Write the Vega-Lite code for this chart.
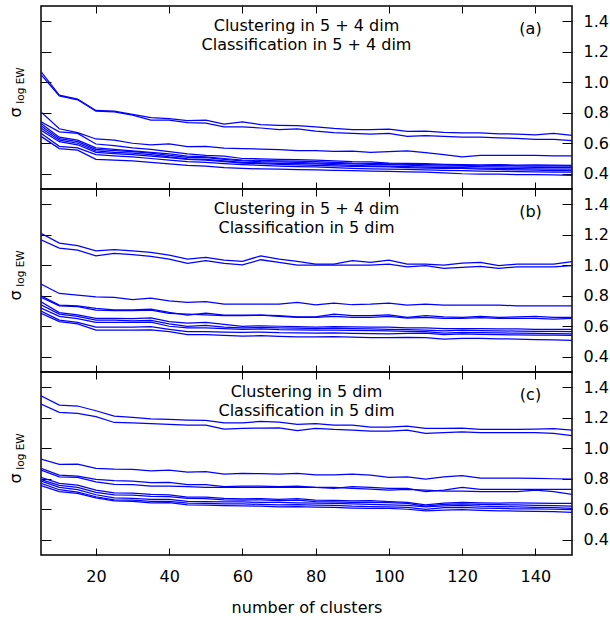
{
"$schema": "https://vega.github.io/schema/vega-lite/v6.json",
"padding": {"left": 6, "top": 4, "right": 5, "bottom": 5},
"spacing": 0,
"bounds": "flush",
"config": {
 "font": "DejaVu Sans",
 "view": {"stroke": "#000", "strokeWidth": 1.5},
 "axis": {"grid": false, "domain": false, "tickColor": "#000", "tickWidth": 1, "labelColor": "#000", "labelFont": "DejaVu Sans", "labelFontSize": 16, "titleColor": "#000", "titleFont": "DejaVu Sans", "titleFontWeight": "normal", "titleFontSize": 16},
 "title": {"font": "DejaVu Sans", "fontSize": 16, "fontWeight": "normal", "color": "#000", "anchor": "middle", "baseline": "top", "offset": 0, "lineHeight": 19}
},
"datasets": {
"a": [
{"r":1,"n":5,"s":1.07},{"r":1,"n":10,"s":0.915},{"r":1,"n":15,"s":0.89},{"r":1,"n":20,"s":0.815},{"r":1,"n":25,"s":0.81},{"r":1,"n":30,"s":0.79},{"r":1,"n":35,"s":0.768},{"r":1,"n":40,"s":0.762},{"r":1,"n":45,"s":0.748},{"r":1,"n":50,"s":0.752},{"r":1,"n":55,"s":0.725},{"r":1,"n":60,"s":0.74},{"r":1,"n":65,"s":0.722},{"r":1,"n":70,"s":0.718},{"r":1,"n":75,"s":0.716},{"r":1,"n":80,"s":0.708},{"r":1,"n":85,"s":0.697},{"r":1,"n":90,"s":0.69},{"r":1,"n":95,"s":0.69},{"r":1,"n":100,"s":0.692},{"r":1,"n":105,"s":0.678},{"r":1,"n":110,"s":0.68},{"r":1,"n":115,"s":0.672},{"r":1,"n":120,"s":0.668},{"r":1,"n":125,"s":0.668},{"r":1,"n":130,"s":0.662},{"r":1,"n":135,"s":0.66},{"r":1,"n":140,"s":0.655},{"r":1,"n":145,"s":0.665},{"r":1,"n":150,"s":0.652},
{"r":2,"n":5,"s":1.05},{"r":2,"n":10,"s":0.91},{"r":2,"n":15,"s":0.885},{"r":2,"n":20,"s":0.81},{"r":2,"n":25,"s":0.805},{"r":2,"n":30,"s":0.785},{"r":2,"n":35,"s":0.752},{"r":2,"n":40,"s":0.752},{"r":2,"n":45,"s":0.735},{"r":2,"n":50,"s":0.732},{"r":2,"n":55,"s":0.708},{"r":2,"n":60,"s":0.708},{"r":2,"n":65,"s":0.7},{"r":2,"n":70,"s":0.69},{"r":2,"n":75,"s":0.695},{"r":2,"n":80,"s":0.68},{"r":2,"n":85,"s":0.67},{"r":2,"n":90,"s":0.665},{"r":2,"n":95,"s":0.66},{"r":2,"n":100,"s":0.665},{"r":2,"n":105,"s":0.645},{"r":2,"n":110,"s":0.65},{"r":2,"n":115,"s":0.645},{"r":2,"n":120,"s":0.64},{"r":2,"n":125,"s":0.64},{"r":2,"n":130,"s":0.636},{"r":2,"n":135,"s":0.632},{"r":2,"n":140,"s":0.625},{"r":2,"n":145,"s":0.625},{"r":2,"n":150,"s":0.618},
{"r":3,"n":5,"s":0.805},{"r":3,"n":10,"s":0.695},{"r":3,"n":15,"s":0.67},{"r":3,"n":20,"s":0.628},{"r":3,"n":25,"s":0.62},{"r":3,"n":30,"s":0.6},{"r":3,"n":35,"s":0.59},{"r":3,"n":40,"s":0.596},{"r":3,"n":45,"s":0.578},{"r":3,"n":50,"s":0.58},{"r":3,"n":55,"s":0.568},{"r":3,"n":60,"s":0.565},{"r":3,"n":65,"s":0.562},{"r":3,"n":70,"s":0.558},{"r":3,"n":75,"s":0.552},{"r":3,"n":80,"s":0.552},{"r":3,"n":85,"s":0.546},{"r":3,"n":90,"s":0.548},{"r":3,"n":95,"s":0.54},{"r":3,"n":100,"s":0.545},{"r":3,"n":105,"s":0.55},{"r":3,"n":110,"s":0.538},{"r":3,"n":115,"s":0.525},{"r":3,"n":120,"s":0.51},{"r":3,"n":125,"s":0.52},{"r":3,"n":130,"s":0.52},{"r":3,"n":135,"s":0.52},{"r":3,"n":140,"s":0.52},{"r":3,"n":145,"s":0.518},{"r":3,"n":150,"s":0.518},
{"r":4,"n":5,"s":0.74},{"r":4,"n":10,"s":0.675},{"r":4,"n":15,"s":0.665},{"r":4,"n":20,"s":0.595},{"r":4,"n":25,"s":0.585},{"r":4,"n":30,"s":0.57},{"r":4,"n":35,"s":0.56},{"r":4,"n":40,"s":0.545},{"r":4,"n":45,"s":0.53},{"r":4,"n":50,"s":0.52},{"r":4,"n":55,"s":0.515},{"r":4,"n":60,"s":0.5},{"r":4,"n":65,"s":0.498},{"r":4,"n":70,"s":0.495},{"r":4,"n":75,"s":0.493},{"r":4,"n":80,"s":0.49},{"r":4,"n":85,"s":0.485},{"r":4,"n":90,"s":0.48},{"r":4,"n":95,"s":0.478},{"r":4,"n":100,"s":0.47},{"r":4,"n":105,"s":0.468},{"r":4,"n":110,"s":0.466},{"r":4,"n":115,"s":0.462},{"r":4,"n":120,"s":0.46},{"r":4,"n":125,"s":0.458},{"r":4,"n":130,"s":0.46},{"r":4,"n":135,"s":0.457},{"r":4,"n":140,"s":0.458},{"r":4,"n":145,"s":0.456},{"r":4,"n":150,"s":0.455},
{"r":5,"n":5,"s":0.73},{"r":5,"n":10,"s":0.64},{"r":5,"n":15,"s":0.62},{"r":5,"n":20,"s":0.57},{"r":5,"n":25,"s":0.56},{"r":5,"n":30,"s":0.55},{"r":5,"n":35,"s":0.54},{"r":5,"n":40,"s":0.53},{"r":5,"n":45,"s":0.515},{"r":5,"n":50,"s":0.51},{"r":5,"n":55,"s":0.5},{"r":5,"n":60,"s":0.49},{"r":5,"n":65,"s":0.488},{"r":5,"n":70,"s":0.485},{"r":5,"n":75,"s":0.483},{"r":5,"n":80,"s":0.48},{"r":5,"n":85,"s":0.475},{"r":5,"n":90,"s":0.47},{"r":5,"n":95,"s":0.468},{"r":5,"n":100,"s":0.465},{"r":5,"n":105,"s":0.462},{"r":5,"n":110,"s":0.46},{"r":5,"n":115,"s":0.458},{"r":5,"n":120,"s":0.455},{"r":5,"n":125,"s":0.452},{"r":5,"n":130,"s":0.455},{"r":5,"n":135,"s":0.452},{"r":5,"n":140,"s":0.45},{"r":5,"n":145,"s":0.452},{"r":5,"n":150,"s":0.45},
{"r":6,"n":5,"s":0.715},{"r":6,"n":10,"s":0.63},{"r":6,"n":15,"s":0.61},{"r":6,"n":20,"s":0.56},{"r":6,"n":25,"s":0.552},{"r":6,"n":30,"s":0.545},{"r":6,"n":35,"s":0.535},{"r":6,"n":40,"s":0.52},{"r":6,"n":45,"s":0.508},{"r":6,"n":50,"s":0.505},{"r":6,"n":55,"s":0.495},{"r":6,"n":60,"s":0.485},{"r":6,"n":65,"s":0.48},{"r":6,"n":70,"s":0.478},{"r":6,"n":75,"s":0.474},{"r":6,"n":80,"s":0.47},{"r":6,"n":85,"s":0.468},{"r":6,"n":90,"s":0.465},{"r":6,"n":95,"s":0.462},{"r":6,"n":100,"s":0.46},{"r":6,"n":105,"s":0.456},{"r":6,"n":110,"s":0.452},{"r":6,"n":115,"s":0.45},{"r":6,"n":120,"s":0.45},{"r":6,"n":125,"s":0.446},{"r":6,"n":130,"s":0.445},{"r":6,"n":135,"s":0.443},{"r":6,"n":140,"s":0.442},{"r":6,"n":145,"s":0.44},{"r":6,"n":150,"s":0.44},
{"r":7,"n":5,"s":0.7},{"r":7,"n":10,"s":0.62},{"r":7,"n":15,"s":0.6},{"r":7,"n":20,"s":0.55},{"r":7,"n":25,"s":0.54},{"r":7,"n":30,"s":0.535},{"r":7,"n":35,"s":0.525},{"r":7,"n":40,"s":0.51},{"r":7,"n":45,"s":0.498},{"r":7,"n":50,"s":0.495},{"r":7,"n":55,"s":0.485},{"r":7,"n":60,"s":0.475},{"r":7,"n":65,"s":0.472},{"r":7,"n":70,"s":0.468},{"r":7,"n":75,"s":0.466},{"r":7,"n":80,"s":0.465},{"r":7,"n":85,"s":0.46},{"r":7,"n":90,"s":0.455},{"r":7,"n":95,"s":0.452},{"r":7,"n":100,"s":0.45},{"r":7,"n":105,"s":0.447},{"r":7,"n":110,"s":0.444},{"r":7,"n":115,"s":0.44},{"r":7,"n":120,"s":0.44},{"r":7,"n":125,"s":0.437},{"r":7,"n":130,"s":0.435},{"r":7,"n":135,"s":0.433},{"r":7,"n":140,"s":0.432},{"r":7,"n":145,"s":0.43},{"r":7,"n":150,"s":0.43},
{"r":8,"n":5,"s":0.685},{"r":8,"n":10,"s":0.61},{"r":8,"n":15,"s":0.59},{"r":8,"n":20,"s":0.54},{"r":8,"n":25,"s":0.532},{"r":8,"n":30,"s":0.525},{"r":8,"n":35,"s":0.515},{"r":8,"n":40,"s":0.505},{"r":8,"n":45,"s":0.495},{"r":8,"n":50,"s":0.49},{"r":8,"n":55,"s":0.48},{"r":8,"n":60,"s":0.47},{"r":8,"n":65,"s":0.466},{"r":8,"n":70,"s":0.462},{"r":8,"n":75,"s":0.458},{"r":8,"n":80,"s":0.455},{"r":8,"n":85,"s":0.452},{"r":8,"n":90,"s":0.448},{"r":8,"n":95,"s":0.446},{"r":8,"n":100,"s":0.445},{"r":8,"n":105,"s":0.44},{"r":8,"n":110,"s":0.437},{"r":8,"n":115,"s":0.435},{"r":8,"n":120,"s":0.435},{"r":8,"n":125,"s":0.43},{"r":8,"n":130,"s":0.428},{"r":8,"n":135,"s":0.425},{"r":8,"n":140,"s":0.423},{"r":8,"n":145,"s":0.42},{"r":8,"n":150,"s":0.42},
{"r":9,"n":5,"s":0.665},{"r":9,"n":10,"s":0.58},{"r":9,"n":15,"s":0.57},{"r":9,"n":20,"s":0.525},{"r":9,"n":25,"s":0.518},{"r":9,"n":30,"s":0.51},{"r":9,"n":35,"s":0.5},{"r":9,"n":40,"s":0.49},{"r":9,"n":45,"s":0.48},{"r":9,"n":50,"s":0.475},{"r":9,"n":55,"s":0.467},{"r":9,"n":60,"s":0.46},{"r":9,"n":65,"s":0.455},{"r":9,"n":70,"s":0.45},{"r":9,"n":75,"s":0.447},{"r":9,"n":80,"s":0.445},{"r":9,"n":85,"s":0.44},{"r":9,"n":90,"s":0.436},{"r":9,"n":95,"s":0.432},{"r":9,"n":100,"s":0.43},{"r":9,"n":105,"s":0.428},{"r":9,"n":110,"s":0.425},{"r":9,"n":115,"s":0.422},{"r":9,"n":120,"s":0.42},{"r":9,"n":125,"s":0.418},{"r":9,"n":130,"s":0.416},{"r":9,"n":135,"s":0.414},{"r":9,"n":140,"s":0.412},{"r":9,"n":145,"s":0.41},{"r":9,"n":150,"s":0.41},
{"r":10,"n":5,"s":0.645},{"r":10,"n":10,"s":0.565},{"r":10,"n":15,"s":0.555},{"r":10,"n":20,"s":0.495},{"r":10,"n":25,"s":0.49},{"r":10,"n":30,"s":0.485},{"r":10,"n":35,"s":0.475},{"r":10,"n":40,"s":0.465},{"r":10,"n":45,"s":0.455},{"r":10,"n":50,"s":0.45},{"r":10,"n":55,"s":0.44},{"r":10,"n":60,"s":0.435},{"r":10,"n":65,"s":0.432},{"r":10,"n":70,"s":0.43},{"r":10,"n":75,"s":0.427},{"r":10,"n":80,"s":0.425},{"r":10,"n":85,"s":0.422},{"r":10,"n":90,"s":0.42},{"r":10,"n":95,"s":0.418},{"r":10,"n":100,"s":0.415},{"r":10,"n":105,"s":0.412},{"r":10,"n":110,"s":0.41},{"r":10,"n":115,"s":0.405},{"r":10,"n":120,"s":0.4},{"r":10,"n":125,"s":0.398},{"r":10,"n":130,"s":0.397},{"r":10,"n":135,"s":0.395},{"r":10,"n":140,"s":0.394},{"r":10,"n":145,"s":0.392},{"r":10,"n":150,"s":0.39}
],
"b": [
{"r":1,"n":5,"s":1.209},{"r":1,"n":10,"s":1.145},{"r":1,"n":15,"s":1.128},{"r":1,"n":20,"s":1.095},{"r":1,"n":25,"s":1.102},{"r":1,"n":30,"s":1.095},{"r":1,"n":35,"s":1.084},{"r":1,"n":40,"s":1.067},{"r":1,"n":45,"s":1.04},{"r":1,"n":50,"s":1.051},{"r":1,"n":55,"s":1.034},{"r":1,"n":60,"s":1.025},{"r":1,"n":65,"s":1.062},{"r":1,"n":70,"s":1.04},{"r":1,"n":75,"s":1.025},{"r":1,"n":80,"s":1.008},{"r":1,"n":85,"s":1.008},{"r":1,"n":90,"s":1.03},{"r":1,"n":95,"s":1.019},{"r":1,"n":100,"s":1.034},{"r":1,"n":105,"s":1.008},{"r":1,"n":110,"s":1.008},{"r":1,"n":115,"s":1.001},{"r":1,"n":120,"s":1.014},{"r":1,"n":125,"s":1.019},{"r":1,"n":130,"s":0.997},{"r":1,"n":135,"s":1.008},{"r":1,"n":140,"s":1.008},{"r":1,"n":145,"s":1.008},{"r":1,"n":150,"s":1.023},
{"r":2,"n":5,"s":1.167},{"r":2,"n":10,"s":1.113},{"r":2,"n":15,"s":1.099},{"r":2,"n":20,"s":1.062},{"r":2,"n":25,"s":1.078},{"r":2,"n":30,"s":1.069},{"r":2,"n":35,"s":1.058},{"r":2,"n":40,"s":1.04},{"r":2,"n":45,"s":1.012},{"r":2,"n":50,"s":1.03},{"r":2,"n":55,"s":1.012},{"r":2,"n":60,"s":1.003},{"r":2,"n":65,"s":1.036},{"r":2,"n":70,"s":1.019},{"r":2,"n":75,"s":1.001},{"r":2,"n":80,"s":1.001},{"r":2,"n":85,"s":1.001},{"r":2,"n":90,"s":1.001},{"r":2,"n":95,"s":1.001},{"r":2,"n":100,"s":1.008},{"r":2,"n":105,"s":0.99},{"r":2,"n":110,"s":0.997},{"r":2,"n":115,"s":0.979},{"r":2,"n":120,"s":0.986},{"r":2,"n":125,"s":0.992},{"r":2,"n":130,"s":0.979},{"r":2,"n":135,"s":0.99},{"r":2,"n":140,"s":0.99},{"r":2,"n":145,"s":0.99},{"r":2,"n":150,"s":0.997},
{"r":3,"n":5,"s":0.877},{"r":3,"n":10,"s":0.815},{"r":3,"n":15,"s":0.804},{"r":3,"n":20,"s":0.793},{"r":3,"n":25,"s":0.789},{"r":3,"n":30,"s":0.774},{"r":3,"n":35,"s":0.785},{"r":3,"n":40,"s":0.767},{"r":3,"n":45,"s":0.756},{"r":3,"n":50,"s":0.761},{"r":3,"n":55,"s":0.745},{"r":3,"n":60,"s":0.745},{"r":3,"n":65,"s":0.745},{"r":3,"n":70,"s":0.745},{"r":3,"n":75,"s":0.756},{"r":3,"n":80,"s":0.741},{"r":3,"n":85,"s":0.752},{"r":3,"n":90,"s":0.741},{"r":3,"n":95,"s":0.745},{"r":3,"n":100,"s":0.752},{"r":3,"n":105,"s":0.739},{"r":3,"n":110,"s":0.745},{"r":3,"n":115,"s":0.739},{"r":3,"n":120,"s":0.739},{"r":3,"n":125,"s":0.739},{"r":3,"n":130,"s":0.739},{"r":3,"n":135,"s":0.734},{"r":3,"n":140,"s":0.734},{"r":3,"n":145,"s":0.734},{"r":3,"n":150,"s":0.734},
{"r":4,"n":5,"s":0.8},{"r":4,"n":10,"s":0.739},{"r":4,"n":15,"s":0.734},{"r":4,"n":20,"s":0.717},{"r":4,"n":25,"s":0.708},{"r":4,"n":30,"s":0.708},{"r":4,"n":35,"s":0.713},{"r":4,"n":40,"s":0.691},{"r":4,"n":45,"s":0.673},{"r":4,"n":50,"s":0.686},{"r":4,"n":55,"s":0.673},{"r":4,"n":60,"s":0.673},{"r":4,"n":65,"s":0.673},{"r":4,"n":70,"s":0.669},{"r":4,"n":75,"s":0.662},{"r":4,"n":80,"s":0.662},{"r":4,"n":85,"s":0.68},{"r":4,"n":90,"s":0.669},{"r":4,"n":95,"s":0.669},{"r":4,"n":100,"s":0.675},{"r":4,"n":105,"s":0.658},{"r":4,"n":110,"s":0.669},{"r":4,"n":115,"s":0.662},{"r":4,"n":120,"s":0.658},{"r":4,"n":125,"s":0.664},{"r":4,"n":130,"s":0.658},{"r":4,"n":135,"s":0.662},{"r":4,"n":140,"s":0.664},{"r":4,"n":145,"s":0.658},{"r":4,"n":150,"s":0.658},
{"r":5,"n":5,"s":0.789},{"r":5,"n":10,"s":0.734},{"r":5,"n":15,"s":0.728},{"r":5,"n":20,"s":0.706},{"r":5,"n":25,"s":0.702},{"r":5,"n":30,"s":0.702},{"r":5,"n":35,"s":0.706},{"r":5,"n":40,"s":0.684},{"r":5,"n":45,"s":0.68},{"r":5,"n":50,"s":0.675},{"r":5,"n":55,"s":0.669},{"r":5,"n":60,"s":0.669},{"r":5,"n":65,"s":0.673},{"r":5,"n":70,"s":0.664},{"r":5,"n":75,"s":0.658},{"r":5,"n":80,"s":0.658},{"r":5,"n":85,"s":0.664},{"r":5,"n":90,"s":0.658},{"r":5,"n":95,"s":0.658},{"r":5,"n":100,"s":0.664},{"r":5,"n":105,"s":0.654},{"r":5,"n":110,"s":0.658},{"r":5,"n":115,"s":0.651},{"r":5,"n":120,"s":0.651},{"r":5,"n":125,"s":0.656},{"r":5,"n":130,"s":0.651},{"r":5,"n":135,"s":0.651},{"r":5,"n":140,"s":0.651},{"r":5,"n":145,"s":0.647},{"r":5,"n":150,"s":0.651},
{"r":6,"n":5,"s":0.76},{"r":6,"n":10,"s":0.69},{"r":6,"n":15,"s":0.675},{"r":6,"n":20,"s":0.652},{"r":6,"n":25,"s":0.652},{"r":6,"n":30,"s":0.65},{"r":6,"n":35,"s":0.655},{"r":6,"n":40,"s":0.63},{"r":6,"n":45,"s":0.62},{"r":6,"n":50,"s":0.625},{"r":6,"n":55,"s":0.612},{"r":6,"n":60,"s":0.6},{"r":6,"n":65,"s":0.603},{"r":6,"n":70,"s":0.6},{"r":6,"n":75,"s":0.598},{"r":6,"n":80,"s":0.595},{"r":6,"n":85,"s":0.598},{"r":6,"n":90,"s":0.596},{"r":6,"n":95,"s":0.594},{"r":6,"n":100,"s":0.595},{"r":6,"n":105,"s":0.59},{"r":6,"n":110,"s":0.59},{"r":6,"n":115,"s":0.585},{"r":6,"n":120,"s":0.585},{"r":6,"n":125,"s":0.584},{"r":6,"n":130,"s":0.582},{"r":6,"n":135,"s":0.582},{"r":6,"n":140,"s":0.58},{"r":6,"n":145,"s":0.58},{"r":6,"n":150,"s":0.58},
{"r":7,"n":5,"s":0.74},{"r":7,"n":10,"s":0.68},{"r":7,"n":15,"s":0.665},{"r":7,"n":20,"s":0.64},{"r":7,"n":25,"s":0.64},{"r":7,"n":30,"s":0.635},{"r":7,"n":35,"s":0.638},{"r":7,"n":40,"s":0.615},{"r":7,"n":45,"s":0.6},{"r":7,"n":50,"s":0.605},{"r":7,"n":55,"s":0.595},{"r":7,"n":60,"s":0.59},{"r":7,"n":65,"s":0.592},{"r":7,"n":70,"s":0.59},{"r":7,"n":75,"s":0.588},{"r":7,"n":80,"s":0.585},{"r":7,"n":85,"s":0.587},{"r":7,"n":90,"s":0.585},{"r":7,"n":95,"s":0.582},{"r":7,"n":100,"s":0.58},{"r":7,"n":105,"s":0.578},{"r":7,"n":110,"s":0.575},{"r":7,"n":115,"s":0.57},{"r":7,"n":120,"s":0.575},{"r":7,"n":125,"s":0.572},{"r":7,"n":130,"s":0.57},{"r":7,"n":135,"s":0.568},{"r":7,"n":140,"s":0.566},{"r":7,"n":145,"s":0.567},{"r":7,"n":150,"s":0.565},
{"r":8,"n":5,"s":0.72},{"r":8,"n":10,"s":0.665},{"r":8,"n":15,"s":0.65},{"r":8,"n":20,"s":0.625},{"r":8,"n":25,"s":0.625},{"r":8,"n":30,"s":0.625},{"r":8,"n":35,"s":0.627},{"r":8,"n":40,"s":0.6},{"r":8,"n":45,"s":0.59},{"r":8,"n":50,"s":0.59},{"r":8,"n":55,"s":0.585},{"r":8,"n":60,"s":0.58},{"r":8,"n":65,"s":0.582},{"r":8,"n":70,"s":0.578},{"r":8,"n":75,"s":0.577},{"r":8,"n":80,"s":0.575},{"r":8,"n":85,"s":0.575},{"r":8,"n":90,"s":0.573},{"r":8,"n":95,"s":0.572},{"r":8,"n":100,"s":0.57},{"r":8,"n":105,"s":0.567},{"r":8,"n":110,"s":0.565},{"r":8,"n":115,"s":0.555},{"r":8,"n":120,"s":0.56},{"r":8,"n":125,"s":0.558},{"r":8,"n":130,"s":0.556},{"r":8,"n":135,"s":0.555},{"r":8,"n":140,"s":0.553},{"r":8,"n":145,"s":0.552},{"r":8,"n":150,"s":0.55},
{"r":9,"n":5,"s":0.7},{"r":9,"n":10,"s":0.64},{"r":9,"n":15,"s":0.625},{"r":9,"n":20,"s":0.595},{"r":9,"n":25,"s":0.595},{"r":9,"n":30,"s":0.595},{"r":9,"n":35,"s":0.597},{"r":9,"n":40,"s":0.58},{"r":9,"n":45,"s":0.565},{"r":9,"n":50,"s":0.565},{"r":9,"n":55,"s":0.562},{"r":9,"n":60,"s":0.56},{"r":9,"n":65,"s":0.562},{"r":9,"n":70,"s":0.558},{"r":9,"n":75,"s":0.557},{"r":9,"n":80,"s":0.555},{"r":9,"n":85,"s":0.556},{"r":9,"n":90,"s":0.553},{"r":9,"n":95,"s":0.552},{"r":9,"n":100,"s":0.55},{"r":9,"n":105,"s":0.553},{"r":9,"n":110,"s":0.555},{"r":9,"n":115,"s":0.545},{"r":9,"n":120,"s":0.55},{"r":9,"n":125,"s":0.547},{"r":9,"n":130,"s":0.545},{"r":9,"n":135,"s":0.543},{"r":9,"n":140,"s":0.542},{"r":9,"n":145,"s":0.541},{"r":9,"n":150,"s":0.54},
{"r":10,"n":5,"s":0.685},{"r":10,"n":10,"s":0.63},{"r":10,"n":15,"s":0.615},{"r":10,"n":20,"s":0.575},{"r":10,"n":25,"s":0.575},{"r":10,"n":30,"s":0.575},{"r":10,"n":35,"s":0.577},{"r":10,"n":40,"s":0.565},{"r":10,"n":45,"s":0.545},{"r":10,"n":50,"s":0.545},{"r":10,"n":55,"s":0.54},{"r":10,"n":60,"s":0.535},{"r":10,"n":65,"s":0.538},{"r":10,"n":70,"s":0.533},{"r":10,"n":75,"s":0.53},{"r":10,"n":80,"s":0.53},{"r":10,"n":85,"s":0.532},{"r":10,"n":90,"s":0.528},{"r":10,"n":95,"s":0.525},{"r":10,"n":100,"s":0.525},{"r":10,"n":105,"s":0.527},{"r":10,"n":110,"s":0.525},{"r":10,"n":115,"s":0.515},{"r":10,"n":120,"s":0.52},{"r":10,"n":125,"s":0.52},{"r":10,"n":130,"s":0.518},{"r":10,"n":135,"s":0.516},{"r":10,"n":140,"s":0.512},{"r":10,"n":145,"s":0.51},{"r":10,"n":150,"s":0.508}
],
"c": [
{"r":1,"n":5,"s":1.344},{"r":1,"n":10,"s":1.283},{"r":1,"n":15,"s":1.277},{"r":1,"n":20,"s":1.246},{"r":1,"n":25,"s":1.211},{"r":1,"n":30,"s":1.202},{"r":1,"n":35,"s":1.193},{"r":1,"n":40,"s":1.189},{"r":1,"n":45,"s":1.185},{"r":1,"n":50,"s":1.183},{"r":1,"n":55,"s":1.167},{"r":1,"n":60,"s":1.167},{"r":1,"n":65,"s":1.176},{"r":1,"n":70,"s":1.172},{"r":1,"n":75,"s":1.156},{"r":1,"n":80,"s":1.161},{"r":1,"n":85,"s":1.152},{"r":1,"n":90,"s":1.152},{"r":1,"n":95,"s":1.139},{"r":1,"n":100,"s":1.139},{"r":1,"n":105,"s":1.145},{"r":1,"n":110,"s":1.13},{"r":1,"n":115,"s":1.13},{"r":1,"n":120,"s":1.132},{"r":1,"n":125,"s":1.123},{"r":1,"n":130,"s":1.123},{"r":1,"n":135,"s":1.123},{"r":1,"n":140,"s":1.126},{"r":1,"n":145,"s":1.128},{"r":1,"n":150,"s":1.119},
{"r":2,"n":5,"s":1.29},{"r":2,"n":10,"s":1.235},{"r":2,"n":15,"s":1.228},{"r":2,"n":20,"s":1.207},{"r":2,"n":25,"s":1.169},{"r":2,"n":30,"s":1.167},{"r":2,"n":35,"s":1.161},{"r":2,"n":40,"s":1.156},{"r":2,"n":45,"s":1.152},{"r":2,"n":50,"s":1.152},{"r":2,"n":55,"s":1.126},{"r":2,"n":60,"s":1.13},{"r":2,"n":65,"s":1.132},{"r":2,"n":70,"s":1.134},{"r":2,"n":75,"s":1.115},{"r":2,"n":80,"s":1.13},{"r":2,"n":85,"s":1.123},{"r":2,"n":90,"s":1.119},{"r":2,"n":95,"s":1.113},{"r":2,"n":100,"s":1.113},{"r":2,"n":105,"s":1.119},{"r":2,"n":110,"s":1.097},{"r":2,"n":115,"s":1.102},{"r":2,"n":120,"s":1.108},{"r":2,"n":125,"s":1.102},{"r":2,"n":130,"s":1.102},{"r":2,"n":135,"s":1.102},{"r":2,"n":140,"s":1.102},{"r":2,"n":145,"s":1.097},{"r":2,"n":150,"s":1.082},
{"r":3,"n":5,"s":0.929},{"r":3,"n":10,"s":0.894},{"r":3,"n":15,"s":0.896},{"r":3,"n":20,"s":0.868},{"r":3,"n":25,"s":0.863},{"r":3,"n":30,"s":0.861},{"r":3,"n":35,"s":0.852},{"r":3,"n":40,"s":0.857},{"r":3,"n":45,"s":0.844},{"r":3,"n":50,"s":0.846},{"r":3,"n":55,"s":0.831},{"r":3,"n":60,"s":0.835},{"r":3,"n":65,"s":0.833},{"r":3,"n":70,"s":0.831},{"r":3,"n":75,"s":0.835},{"r":3,"n":80,"s":0.826},{"r":3,"n":85,"s":0.826},{"r":3,"n":90,"s":0.831},{"r":3,"n":95,"s":0.824},{"r":3,"n":100,"s":0.809},{"r":3,"n":105,"s":0.813},{"r":3,"n":110,"s":0.798},{"r":3,"n":115,"s":0.813},{"r":3,"n":120,"s":0.82},{"r":3,"n":125,"s":0.804},{"r":3,"n":130,"s":0.804},{"r":3,"n":135,"s":0.804},{"r":3,"n":140,"s":0.802},{"r":3,"n":145,"s":0.8},{"r":3,"n":150,"s":0.798},
{"r":4,"n":5,"s":0.868},{"r":4,"n":10,"s":0.824},{"r":4,"n":15,"s":0.817},{"r":4,"n":20,"s":0.796},{"r":4,"n":25,"s":0.787},{"r":4,"n":30,"s":0.785},{"r":4,"n":35,"s":0.774},{"r":4,"n":40,"s":0.776},{"r":4,"n":45,"s":0.761},{"r":4,"n":50,"s":0.761},{"r":4,"n":55,"s":0.748},{"r":4,"n":60,"s":0.752},{"r":4,"n":65,"s":0.752},{"r":4,"n":70,"s":0.748},{"r":4,"n":75,"s":0.752},{"r":4,"n":80,"s":0.743},{"r":4,"n":85,"s":0.737},{"r":4,"n":90,"s":0.748},{"r":4,"n":95,"s":0.743},{"r":4,"n":100,"s":0.737},{"r":4,"n":105,"s":0.737},{"r":4,"n":110,"s":0.715},{"r":4,"n":115,"s":0.726},{"r":4,"n":120,"s":0.743},{"r":4,"n":125,"s":0.73},{"r":4,"n":130,"s":0.73},{"r":4,"n":135,"s":0.73},{"r":4,"n":140,"s":0.73},{"r":4,"n":145,"s":0.73},{"r":4,"n":150,"s":0.73},
{"r":5,"n":5,"s":0.857},{"r":5,"n":10,"s":0.813},{"r":5,"n":15,"s":0.809},{"r":5,"n":20,"s":0.78},{"r":5,"n":25,"s":0.763},{"r":5,"n":30,"s":0.761},{"r":5,"n":35,"s":0.752},{"r":5,"n":40,"s":0.752},{"r":5,"n":45,"s":0.748},{"r":5,"n":50,"s":0.743},{"r":5,"n":55,"s":0.743},{"r":5,"n":60,"s":0.743},{"r":5,"n":65,"s":0.743},{"r":5,"n":70,"s":0.743},{"r":5,"n":75,"s":0.743},{"r":5,"n":80,"s":0.743},{"r":5,"n":85,"s":0.743},{"r":5,"n":90,"s":0.737},{"r":5,"n":95,"s":0.732},{"r":5,"n":100,"s":0.726},{"r":5,"n":105,"s":0.73},{"r":5,"n":110,"s":0.726},{"r":5,"n":115,"s":0.719},{"r":5,"n":120,"s":0.719},{"r":5,"n":125,"s":0.715},{"r":5,"n":130,"s":0.715},{"r":5,"n":135,"s":0.715},{"r":5,"n":140,"s":0.726},{"r":5,"n":145,"s":0.715},{"r":5,"n":150,"s":0.697},
{"r":6,"n":5,"s":0.81},{"r":6,"n":10,"s":0.77},{"r":6,"n":15,"s":0.758},{"r":6,"n":20,"s":0.726},{"r":6,"n":25,"s":0.708},{"r":6,"n":30,"s":0.705},{"r":6,"n":35,"s":0.698},{"r":6,"n":40,"s":0.695},{"r":6,"n":45,"s":0.68},{"r":6,"n":50,"s":0.68},{"r":6,"n":55,"s":0.672},{"r":6,"n":60,"s":0.668},{"r":6,"n":65,"s":0.67},{"r":6,"n":70,"s":0.665},{"r":6,"n":75,"s":0.67},{"r":6,"n":80,"s":0.66},{"r":6,"n":85,"s":0.658},{"r":6,"n":90,"s":0.655},{"r":6,"n":95,"s":0.656},{"r":6,"n":100,"s":0.65},{"r":6,"n":105,"s":0.645},{"r":6,"n":110,"s":0.628},{"r":6,"n":115,"s":0.64},{"r":6,"n":120,"s":0.645},{"r":6,"n":125,"s":0.642},{"r":6,"n":130,"s":0.64},{"r":6,"n":135,"s":0.642},{"r":6,"n":140,"s":0.64},{"r":6,"n":145,"s":0.638},{"r":6,"n":150,"s":0.638},
{"r":7,"n":5,"s":0.795},{"r":7,"n":10,"s":0.756},{"r":7,"n":15,"s":0.743},{"r":7,"n":20,"s":0.71},{"r":7,"n":25,"s":0.695},{"r":7,"n":30,"s":0.692},{"r":7,"n":35,"s":0.685},{"r":7,"n":40,"s":0.683},{"r":7,"n":45,"s":0.672},{"r":7,"n":50,"s":0.67},{"r":7,"n":55,"s":0.662},{"r":7,"n":60,"s":0.66},{"r":7,"n":65,"s":0.662},{"r":7,"n":70,"s":0.657},{"r":7,"n":75,"s":0.66},{"r":7,"n":80,"s":0.65},{"r":7,"n":85,"s":0.648},{"r":7,"n":90,"s":0.645},{"r":7,"n":95,"s":0.645},{"r":7,"n":100,"s":0.643},{"r":7,"n":105,"s":0.638},{"r":7,"n":110,"s":0.62},{"r":7,"n":115,"s":0.632},{"r":7,"n":120,"s":0.635},{"r":7,"n":125,"s":0.632},{"r":7,"n":130,"s":0.63},{"r":7,"n":135,"s":0.628},{"r":7,"n":140,"s":0.625},{"r":7,"n":145,"s":0.623},{"r":7,"n":150,"s":0.62},
{"r":8,"n":5,"s":0.785},{"r":8,"n":10,"s":0.743},{"r":8,"n":15,"s":0.728},{"r":8,"n":20,"s":0.695},{"r":8,"n":25,"s":0.675},{"r":8,"n":30,"s":0.672},{"r":8,"n":35,"s":0.665},{"r":8,"n":40,"s":0.665},{"r":8,"n":45,"s":0.652},{"r":8,"n":50,"s":0.65},{"r":8,"n":55,"s":0.648},{"r":8,"n":60,"s":0.648},{"r":8,"n":65,"s":0.645},{"r":8,"n":70,"s":0.645},{"r":8,"n":75,"s":0.642},{"r":8,"n":80,"s":0.64},{"r":8,"n":85,"s":0.638},{"r":8,"n":90,"s":0.635},{"r":8,"n":95,"s":0.632},{"r":8,"n":100,"s":0.628},{"r":8,"n":105,"s":0.625},{"r":8,"n":110,"s":0.615},{"r":8,"n":115,"s":0.622},{"r":8,"n":120,"s":0.625},{"r":8,"n":125,"s":0.62},{"r":8,"n":130,"s":0.618},{"r":8,"n":135,"s":0.615},{"r":8,"n":140,"s":0.612},{"r":8,"n":145,"s":0.61},{"r":8,"n":150,"s":0.605},
{"r":9,"n":5,"s":0.77},{"r":9,"n":10,"s":0.728},{"r":9,"n":15,"s":0.712},{"r":9,"n":20,"s":0.682},{"r":9,"n":25,"s":0.662},{"r":9,"n":30,"s":0.66},{"r":9,"n":35,"s":0.652},{"r":9,"n":40,"s":0.652},{"r":9,"n":45,"s":0.64},{"r":9,"n":50,"s":0.638},{"r":9,"n":55,"s":0.635},{"r":9,"n":60,"s":0.635},{"r":9,"n":65,"s":0.632},{"r":9,"n":70,"s":0.628},{"r":9,"n":75,"s":0.63},{"r":9,"n":80,"s":0.627},{"r":9,"n":85,"s":0.625},{"r":9,"n":90,"s":0.62},{"r":9,"n":95,"s":0.618},{"r":9,"n":100,"s":0.616},{"r":9,"n":105,"s":0.612},{"r":9,"n":110,"s":0.6},{"r":9,"n":115,"s":0.61},{"r":9,"n":120,"s":0.612},{"r":9,"n":125,"s":0.608},{"r":9,"n":130,"s":0.605},{"r":9,"n":135,"s":0.603},{"r":9,"n":140,"s":0.602},{"r":9,"n":145,"s":0.6},{"r":9,"n":150,"s":0.598},
{"r":10,"n":5,"s":0.755},{"r":10,"n":10,"s":0.715},{"r":10,"n":15,"s":0.704},{"r":10,"n":20,"s":0.675},{"r":10,"n":25,"s":0.655},{"r":10,"n":30,"s":0.652},{"r":10,"n":35,"s":0.642},{"r":10,"n":40,"s":0.643},{"r":10,"n":45,"s":0.628},{"r":10,"n":50,"s":0.627},{"r":10,"n":55,"s":0.624},{"r":10,"n":60,"s":0.622},{"r":10,"n":65,"s":0.62},{"r":10,"n":70,"s":0.615},{"r":10,"n":75,"s":0.618},{"r":10,"n":80,"s":0.614},{"r":10,"n":85,"s":0.612},{"r":10,"n":90,"s":0.608},{"r":10,"n":95,"s":0.605},{"r":10,"n":100,"s":0.605},{"r":10,"n":105,"s":0.6},{"r":10,"n":110,"s":0.59},{"r":10,"n":115,"s":0.595},{"r":10,"n":120,"s":0.598},{"r":10,"n":125,"s":0.593},{"r":10,"n":130,"s":0.59},{"r":10,"n":135,"s":0.588},{"r":10,"n":140,"s":0.586},{"r":10,"n":145,"s":0.585},{"r":10,"n":150,"s":0.58}
]
},
"vconcat": [
{
 "width": 531, "height": 183,
 "data": {"name": "a"},
 "title": {"text": ["Clustering in 5 + 4 dim", "Classification in 5 + 4 dim"], "dy": 51},
 "resolve": {"axis": {"x": "independent", "y": "independent"}},
 "layer": [
  {"mark": {"type": "line", "color": "#0000ff", "strokeWidth": 1.25, "clip": true},
   "encoding": {
    "x": {"field": "n", "type": "quantitative", "scale": {"domain": [5, 150], "nice": false, "zero": false}, "axis": {"orient": "bottom", "values": [20, 40, 60, 80, 100, 120, 140], "tickSize": -7, "labels": false, "title": null}},
    "y": {"field": "s", "type": "quantitative", "scale": {"domain": [0.3, 1.5], "nice": false, "zero": false}, "axis": {"orient": "right", "values": [0.4, 0.6, 0.8, 1.0, 1.2, 1.4], "format": ".1f", "tickSize": -10, "labelPadding": 21, "title": null}},
    "detail": {"field": "r", "type": "nominal"}}},
  {"mark": {"type": "line", "opacity": 0},
   "encoding": {
    "x": {"field": "n", "type": "quantitative", "scale": {"domain": [5, 150], "nice": false, "zero": false}, "axis": {"orient": "top", "values": [20, 40, 60, 80, 100, 120, 140], "tickSize": -7, "labels": false, "title": "(a)", "titleX": 489, "titleY": 22, "titleAlign": "center", "titleBaseline": "middle", "titleAngle": 0}},
    "y": {"field": "s", "type": "quantitative", "scale": {"domain": [0.3, 1.5], "nice": false, "zero": false}, "axis": {"orient": "left", "values": [0.4, 0.6, 0.8, 1.0, 1.2, 1.4], "tickSize": -10, "labels": false, "title": "σ", "titleFontSize": 16, "titleX": -26, "titleY": 106, "titleAngle": -90, "titleAlign": "center", "titleBaseline": "middle"}},
    "detail": {"field": "r", "type": "nominal"}}},
  {"mark": {"type": "line", "opacity": 0},
   "encoding": {
    "x": {"field": "n", "type": "quantitative", "scale": {"domain": [5, 150], "nice": false, "zero": false}, "axis": null},
    "y": {"field": "s", "type": "quantitative", "scale": {"domain": [0.3, 1.5], "nice": false, "zero": false}, "axis": {"orient": "left", "ticks": false, "labels": false, "title": "log EW", "titleFontSize": 10.5, "titleX": -20.5, "titleY": 79, "titleAngle": -90, "titleAlign": "center", "titleBaseline": "middle"}},
    "detail": {"field": "r", "type": "nominal"}}}
 ]
},
{
 "width": 531, "height": 183,
 "data": {"name": "b"},
 "title": {"text": ["Clustering in 5 + 4 dim", "Classification in 5 dim"], "dy": 51},
 "resolve": {"axis": {"x": "independent", "y": "independent"}},
 "layer": [
  {"mark": {"type": "line", "color": "#0000ff", "strokeWidth": 1.25, "clip": true},
   "encoding": {
    "x": {"field": "n", "type": "quantitative", "scale": {"domain": [5, 150], "nice": false, "zero": false}, "axis": {"orient": "bottom", "values": [20, 40, 60, 80, 100, 120, 140], "tickSize": -7, "labels": false, "title": null}},
    "y": {"field": "s", "type": "quantitative", "scale": {"domain": [0.3, 1.5], "nice": false, "zero": false}, "axis": {"orient": "right", "values": [0.4, 0.6, 0.8, 1.0, 1.2, 1.4], "format": ".1f", "tickSize": -10, "labelPadding": 21, "title": null}},
    "detail": {"field": "r", "type": "nominal"}}},
  {"mark": {"type": "line", "opacity": 0},
   "encoding": {
    "x": {"field": "n", "type": "quantitative", "scale": {"domain": [5, 150], "nice": false, "zero": false}, "axis": {"orient": "top", "values": [20, 40, 60, 80, 100, 120, 140], "tickSize": -7, "labels": false, "title": "(b)", "titleX": 489, "titleY": 22, "titleAlign": "center", "titleBaseline": "middle", "titleAngle": 0}},
    "y": {"field": "s", "type": "quantitative", "scale": {"domain": [0.3, 1.5], "nice": false, "zero": false}, "axis": {"orient": "left", "values": [0.4, 0.6, 0.8, 1.0, 1.2, 1.4], "tickSize": -10, "labels": false, "title": "σ", "titleFontSize": 16, "titleX": -26, "titleY": 106, "titleAngle": -90, "titleAlign": "center", "titleBaseline": "middle"}},
    "detail": {"field": "r", "type": "nominal"}}},
  {"mark": {"type": "line", "opacity": 0},
   "encoding": {
    "x": {"field": "n", "type": "quantitative", "scale": {"domain": [5, 150], "nice": false, "zero": false}, "axis": null},
    "y": {"field": "s", "type": "quantitative", "scale": {"domain": [0.3, 1.5], "nice": false, "zero": false}, "axis": {"orient": "left", "ticks": false, "labels": false, "title": "log EW", "titleFontSize": 10.5, "titleX": -20.5, "titleY": 79, "titleAngle": -90, "titleAlign": "center", "titleBaseline": "middle"}},
    "detail": {"field": "r", "type": "nominal"}}}
 ]
},
{
 "width": 531, "height": 183,
 "data": {"name": "c"},
 "title": {"text": ["Clustering in 5 dim", "Classification in 5 dim"], "dy": 51},
 "resolve": {"axis": {"x": "independent", "y": "independent"}},
 "layer": [
  {"mark": {"type": "line", "color": "#0000ff", "strokeWidth": 1.25, "clip": true},
   "encoding": {
    "x": {"field": "n", "type": "quantitative", "scale": {"domain": [5, 150], "nice": false, "zero": false}, "axis": {"orient": "bottom", "values": [20, 40, 60, 80, 100, 120, 140], "tickSize": -7, "labelPadding": 20, "title": "number of clusters", "titlePadding": 15}},
    "y": {"field": "s", "type": "quantitative", "scale": {"domain": [0.3, 1.5], "nice": false, "zero": false}, "axis": {"orient": "right", "values": [0.4, 0.6, 0.8, 1.0, 1.2, 1.4], "format": ".1f", "tickSize": -10, "labelPadding": 21, "title": null}},
    "detail": {"field": "r", "type": "nominal"}}},
  {"mark": {"type": "line", "opacity": 0},
   "encoding": {
    "x": {"field": "n", "type": "quantitative", "scale": {"domain": [5, 150], "nice": false, "zero": false}, "axis": {"orient": "top", "values": [20, 40, 60, 80, 100, 120, 140], "tickSize": -7, "labels": false, "title": "(c)", "titleX": 489, "titleY": 22, "titleAlign": "center", "titleBaseline": "middle", "titleAngle": 0}},
    "y": {"field": "s", "type": "quantitative", "scale": {"domain": [0.3, 1.5], "nice": false, "zero": false}, "axis": {"orient": "left", "values": [0.4, 0.6, 0.8, 1.0, 1.2, 1.4], "tickSize": -10, "labels": false, "title": "σ", "titleFontSize": 16, "titleX": -26, "titleY": 106, "titleAngle": -90, "titleAlign": "center", "titleBaseline": "middle"}},
    "detail": {"field": "r", "type": "nominal"}}},
  {"mark": {"type": "line", "opacity": 0},
   "encoding": {
    "x": {"field": "n", "type": "quantitative", "scale": {"domain": [5, 150], "nice": false, "zero": false}, "axis": null},
    "y": {"field": "s", "type": "quantitative", "scale": {"domain": [0.3, 1.5], "nice": false, "zero": false}, "axis": {"orient": "left", "ticks": false, "labels": false, "title": "log EW", "titleFontSize": 10.5, "titleX": -20.5, "titleY": 79, "titleAngle": -90, "titleAlign": "center", "titleBaseline": "middle"}},
    "detail": {"field": "r", "type": "nominal"}}}
 ]
}
]
}
